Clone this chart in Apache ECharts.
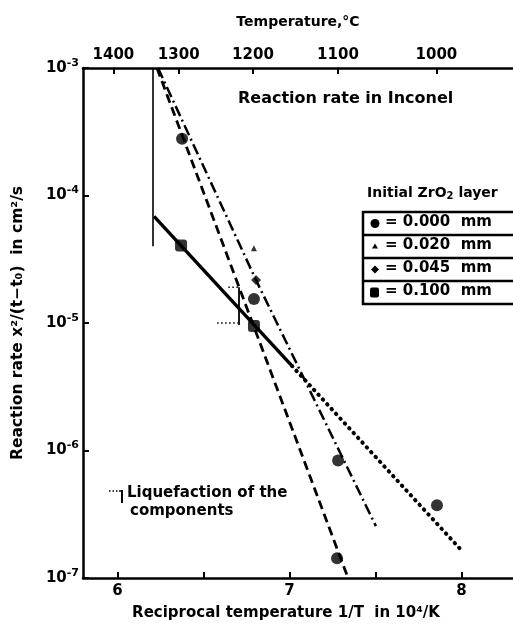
<!DOCTYPE html>
<html>
<head>
<meta charset="utf-8">
<script src="https://cdn.jsdelivr.net/npm/echarts@6/dist/echarts.min.js"></script>
<style>
html,body{margin:0;padding:0;background:#fff;}
#c{width:513px;height:626px;}
</style>
</head>
<body>
<div id="c"></div>
<script>
// ---- data ----
const tempTicks = [1400, 1300, 1200, 1100, 1000];          // top axis, °C
const xMajorTicks = [6, 7, 8];
const xAllTicks = [6, 6.5, 7, 7.5, 8];

// measured points (x = 1/T in 1e4/K, y = rate cm^2/s)
const circleX = [6.376, 6.794, 7.283, 7.858, 7.277];
const circleY = [2.79e-4, 1.54e-5, 8.35e-7, 3.72e-7, 1.43e-7];
const triangleX = [6.794];
const triangleY = [3.85e-5];
const diamondX = [6.806];
const diamondY = [2.17e-5];
const squareX = [6.370, 6.794];
const squareY = [4.06e-5, 9.48e-6];

// fitted lines
const dashedX = [6.230, 7.341];
const dashedY = [1e-3, 1e-7];
const dashDotX = [6.236, 6.806, 7.503];
const dashDotY = [1e-3, 2.17e-5, 2.55e-7];
const solidX = [6.213, 7.015];
const solidY = [6.85e-5, 4.61e-6];
const dottedX = [7.015, 8.009];
const dottedY = [4.61e-6, 1.6e-7];

// liquefaction ranges
const liq1X = [6.207, 6.207];
const liq1Y = [1e-3, 4.0e-5];
const liq2X = [6.707, 6.707];
const liq2Y = [1.91e-5, 9.64e-6];
const liq2TopCapX = [6.645, 6.707];
const liq2TopCapY = [1.91e-5, 1.91e-5];
const liq2BotCapX = [6.58, 6.70];
const liq2BotCapY = [1.0e-5, 1.0e-5];

const legendRows = ['0.000', '0.020', '0.045', '0.100'];

const zip = (xs, ys) => xs.map((x, i) => [x, ys[i]]);
const FONT = 'DejaVu Sans';

const chart = echarts.init(document.getElementById('c'), null, {renderer: 'canvas'});

const axisLineStyle = {color: '#000', width: 2.5};

const option = {
  backgroundColor: '#fff',
  animation: false,
  grid: {left: 83, top: 68, width: 430, height: 512, containLabel: false},
  xAxis: [
    {
      type: 'value', position: 'bottom', min: 5.8, max: 8.3,
      axisLine: {show: true, onZero: false, lineStyle: axisLineStyle},
      axisTick: {show: true, inside: true, length: 6, lineStyle: {color: '#000', width: 2}, customValues: xAllTicks},
      axisLabel: {show: true, customValues: xMajorTicks, color: '#000', fontFamily: FONT, fontWeight: 'bold', fontSize: 15, margin: 6},
      splitLine: {show: false},
      name: 'Reciprocal temperature 1/T  in 10\u2074/K',
      nameLocation: 'middle', nameGap: 28,
      nameTextStyle: {color: '#000', fontFamily: FONT, fontWeight: 'bold', fontSize: 15, padding: [0, 24, 0, 0]}
    },
    {
      type: 'value', position: 'top', min: 5.8, max: 8.3,
      axisLine: {show: true, onZero: false, lineStyle: axisLineStyle},
      axisTick: {show: true, inside: true, length: 6, lineStyle: {color: '#000', width: 2},
        customValues: tempTicks.map(t => 1e4 / (t + 273.15))},
      axisLabel: {show: true, customValues: tempTicks.map(t => 1e4 / (t + 273.15)),
        formatter: v => String(Math.round((1e4 / v - 273.15) / 100) * 100),
        color: '#000', fontFamily: FONT, fontWeight: 'bold', fontSize: 15, margin: 5},
      splitLine: {show: false},
      name: 'Temperature,\u00B0C', nameLocation: 'middle', nameGap: 39,
      nameTextStyle: {color: '#000', fontFamily: FONT, fontWeight: 'bold', fontSize: 14, padding: [0, 0, 0, 0]}
    }
  ],
  yAxis: {
    type: 'log', logBase: 10, min: 1e-7, max: 1e-3,
    axisLine: {show: true, onZero: false, lineStyle: axisLineStyle},
    axisTick: {show: true, inside: true, length: 6, lineStyle: {color: '#000', width: 2}},
    minorTick: {show: false},
    splitLine: {show: false},
    axisLabel: {
      color: '#000', fontFamily: FONT, fontWeight: 'bold', fontSize: 15, margin: 4,
      formatter: v => '10{sup|-' + Math.round(-Math.log10(v)) + '}',
      rich: {sup: {fontSize: 11, fontWeight: 'bold', fontFamily: FONT, color: '#000', padding: [0, 0, 10, 0]}}
    },
    name: 'Reaction rate x\u00B2/(t\u2212t\u2080)  in cm\u00B2/s',
    nameLocation: 'middle', nameGap: 57, nameRotate: 90,
    nameTextStyle: {color: '#000', fontFamily: FONT, fontWeight: 'bold', fontSize: 15.5, padding: [0, 0, 0, 0]}
  },
  series: [
    {type: 'line', data: zip(dashedX, dashedY), symbol: 'none', silent: true,
      lineStyle: {color: '#000', width: 2.8, type: [9, 5]}},
    {type: 'line', data: zip(dashDotX, dashDotY), symbol: 'none', silent: true,
      lineStyle: {color: '#000', width: 2.5, type: [11, 4, 2, 4]}},
    {type: 'line', data: zip(solidX, solidY), symbol: 'none', silent: true,
      lineStyle: {color: '#000', width: 3.4}},
    {type: 'line', data: zip(dottedX, dottedY), symbol: 'none', silent: true,
      lineStyle: {color: '#000', width: 4, type: [0.5, 6], cap: 'round'}},
    {type: 'line', data: zip(liq1X, liq1Y), symbol: 'none', silent: true,
      lineStyle: {color: '#000', width: 1.6}},
    {type: 'line', data: zip(liq2X, liq2Y), symbol: 'none', silent: true,
      lineStyle: {color: '#000', width: 1.8}},
    {type: 'line', data: zip(liq2TopCapX, liq2TopCapY), symbol: 'none', silent: true,
      lineStyle: {color: '#000', width: 1.5, type: [1.5, 2.5]}},
    {type: 'line', data: zip(liq2BotCapX, liq2BotCapY), symbol: 'none', silent: true,
      lineStyle: {color: '#000', width: 1.5, type: [1.5, 2.5]}},
    {type: 'scatter', data: zip(circleX, circleY), symbol: 'circle', symbolSize: 12,
      itemStyle: {color: '#000'}},
    {type: 'scatter', data: zip(triangleX, triangleY), symbol: 'triangle', symbolSize: 6,
      itemStyle: {color: '#000'}},
    {type: 'scatter', data: zip(diamondX, diamondY), symbol: 'diamond', symbolSize: 10,
      itemStyle: {color: '#000'}},
    {type: 'scatter', data: zip(squareX, squareY), symbol: 'roundRect', symbolSize: 12,
      itemStyle: {color: '#000'}}
  ],
  graphic: []
};

// annotations
const g = [];
g.push({type: 'text', left: 238, top: 91, style: {text: 'Reaction rate in Inconel', fill: '#000', font: 'bold 16px "DejaVu Sans"'}});
g.push({type: 'text', left: 367, top: 186, style: {text: 'Initial ZrO{sub|2} layer', fill: '#000', font: 'bold 14px "DejaVu Sans"',
  rich: {sub: {fontSize: 10, fontWeight: 'bold', fontFamily: FONT, padding: [7, 0, 0, 0]}}}});
// legend table
const rowTop = 212, rowH = 23;
g.push({type: 'rect', shape: {x: 363, y: rowTop, width: 160, height: rowH * legendRows.length},
  style: {fill: 'none', stroke: '#000', lineWidth: 2.5}});
for (let i = 1; i < legendRows.length; i++) {
  g.push({type: 'line', shape: {x1: 363, y1: rowTop + i * rowH, x2: 513, y2: rowTop + i * rowH}, style: {stroke: '#000', lineWidth: 2.5}});
}
legendRows.forEach((r, i) => {
  const cy = rowTop + i * rowH + rowH / 2;
  g.push({type: 'text', left: 385, top: cy - 9, style: {text: '= ' + r + '  mm', fill: '#000', font: 'bold 15px "DejaVu Sans"'}});
});
g.push({type: 'circle', shape: {cx: 375, cy: rowTop + rowH * 0.5, r: 4.5}, style: {fill: '#000'}});
g.push({type: 'polygon', shape: {points: [[375, rowTop + rowH * 1.5 - 3], [378, rowTop + rowH * 1.5 + 2], [372, rowTop + rowH * 1.5 + 2]]}, style: {fill: '#000'}});
g.push({type: 'polygon', shape: {points: [[375, rowTop + rowH * 2.5 - 4], [379, rowTop + rowH * 2.5], [375, rowTop + rowH * 2.5 + 4], [371, rowTop + rowH * 2.5]]}, style: {fill: '#000'}});
g.push({type: 'rect', shape: {x: 370, y: rowTop + rowH * 3.5 - 5, width: 9, height: 10, r: 2}, style: {fill: '#000'}});
// liquefaction key
g.push({type: 'line', shape: {x1: 109, y1: 491, x2: 119, y2: 491}, style: {stroke: '#000', lineWidth: 1.5, lineDash: [1.5, 2]}});
g.push({type: 'line', shape: {x1: 122, y1: 490, x2: 122, y2: 503}, style: {stroke: '#000', lineWidth: 2}});
g.push({type: 'line', shape: {x1: 119, y1: 491, x2: 122, y2: 491}, style: {stroke: '#000', lineWidth: 1.5}});
g.push({type: 'text', left: 127, top: 486, style: {text: 'Liquefaction of the', fill: '#000', font: 'bold 15px "DejaVu Sans"'}});
g.push({type: 'text', left: 130, top: 504, style: {text: 'components', fill: '#000', font: 'bold 15px "DejaVu Sans"'}});
option.graphic = g;

chart.setOption(option);
</script>
</body>
</html>
